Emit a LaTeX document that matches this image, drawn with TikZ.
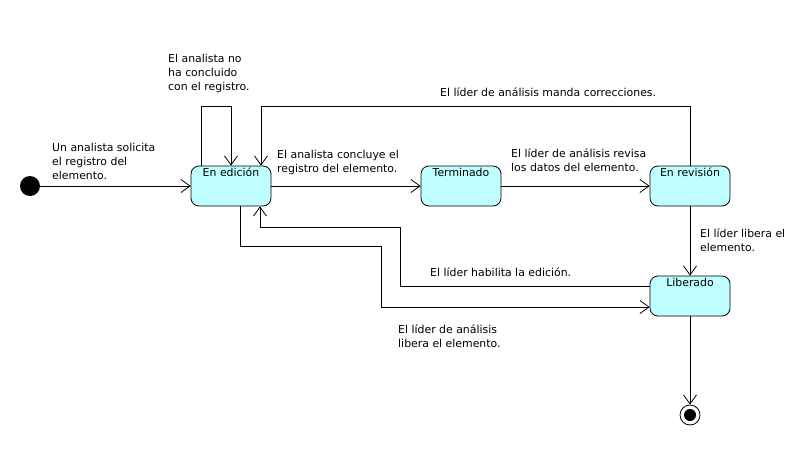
\documentclass[tikz,border=0pt]{standalone}
\usepackage{fontspec}
\setmainfont{DejaVu Sans}
\usetikzlibrary{arrows.meta}
\definecolor{StateFill}{HTML}{C0FFFF}
\tikzset{
  state/.style={draw, line width=0.8pt, fill=StateFill, rounded corners=8pt,
    minimum width=80pt, minimum height=40pt, inner sep=0pt},
  trans/.style={line width=0.8pt, -{Straight Barb[length=9pt,width=13pt,line width=0.8pt]}},
  edgelabel/.style={anchor=north west, inner sep=0pt, align=left,
    font=\fontsize{10.9}{14}\selectfont},
  statename/.style={anchor=base, inner sep=0pt, yshift=-11pt,
    font=\fontsize{10.9}{14}\selectfont}
}

\begin{document}
\begin{tikzpicture}[x=1pt, y=-1pt]
  \useasboundingbox (0,0) rectangle (794,460);

  % states
  \node[circle, fill=black, minimum size=20pt, inner sep=0pt] (init) at (30,186) {};
  \node[state, label={[statename]north:En edición}] (edicion) at (231,186) {};
  \node[state, label={[statename]north:Terminado}] (terminado) at (461,186) {};
  \node[state, label={[statename]north:En revisión}] (revision) at (690,186) {};
  \node[state, label={[statename]north:Liberado}] (liberado) at (690,296) {};
  \node[circle, draw, line width=0.8pt, fill=white, minimum size=20pt, inner sep=0pt] (final) at (690,415) {};
  \node[circle, fill=black, minimum size=12pt, inner sep=0pt] at (final) {};

  % bends
  \coordinate (loopA) at (201,106);
  \coordinate (loopB) at (231,106);
  \coordinate (corr) at (261,106);
  \coordinate (habA) at (400,286);
  \coordinate (habB) at (260,227);
  \coordinate (relA) at (240,246);
  \coordinate (relB) at (381,307);

  % transitions
  \draw[trans] (init) -- (edicion);
  \draw[trans] (edicion.north -| loopA) -- (loopA) -- (loopB) -- (edicion.north -| loopB);
  \draw[trans] (edicion) -- (terminado);
  \draw[trans] (terminado) -- (revision);
  \draw[trans] (revision.north) |- (corr) -- (edicion.north -| corr);
  \draw[trans] (revision) -- (liberado);
  \draw[trans] (liberado.west |- habA) -- (habA) |- (habB) -- (edicion.south -| habB);
  \draw[trans] (edicion.south -| relA) -- (relA) -| (relB) -- (liberado.west |- relB);
  \draw[trans] (liberado) -- (final);

  % labels
  \node[edgelabel] (lblInit) at (52,143) {Un analista solicita\\el registro del\\elemento.};
  \node[edgelabel] (lblLoop) at (168,54) {El analista no\\ha concluido\\con el registro.};
  \node[edgelabel] (lblFin) at (277,150) {El analista concluye el\\registro del elemento.};
  \node[edgelabel] (lblRev) at (511,149) {El líder de análisis revisa\\los datos del elemento.};
  \node[edgelabel] (lblCorr) at (440,88) {El líder de análisis manda correcciones.};
  \node[edgelabel] (lblLib) at (700,229) {El líder libera el\\elemento.};
  \node[edgelabel] (lblHab) at (430,268) {El líder habilita la edición.};
  \node[edgelabel] (lblRel) at (398,325) {El líder de análisis\\libera el elemento.};
\end{tikzpicture}
\end{document}
